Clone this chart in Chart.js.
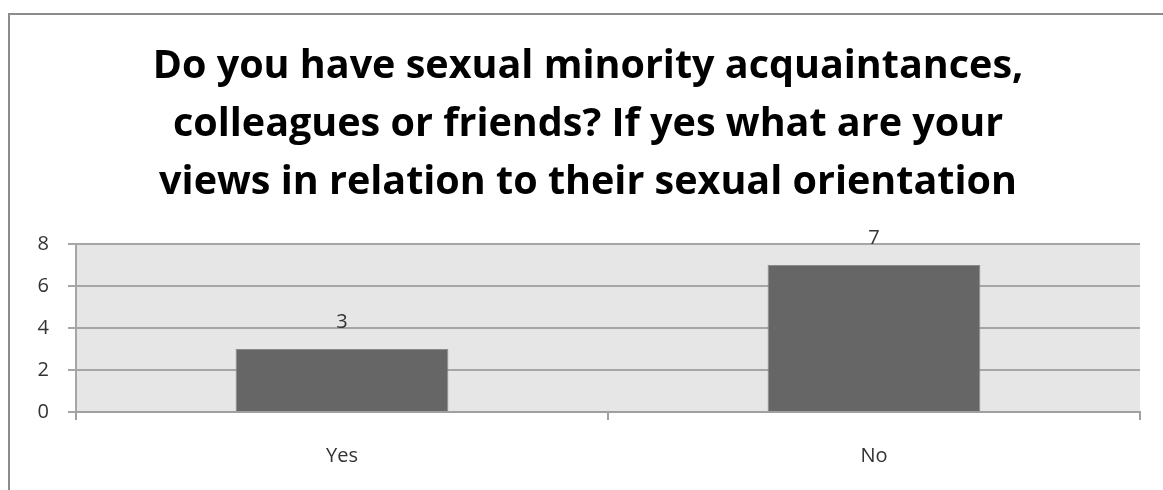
<!DOCTYPE html>
<html>
<head>
<meta charset="utf-8">
<script src="https://cdn.jsdelivr.net/npm/chart.js@4/dist/chart.umd.min.js"></script>
<style>
  html, body { margin: 0; padding: 0; background: #fff; overflow: hidden; }
  #frame { position: absolute; left: 8px; top: 13px; width: 1300px; height: 600px; border: 2px solid #8c8c8c; }
  #wrap { position: absolute; left: 0; top: 0; width: 1163px; height: 490px; }
</style>
</head>
<body>
<div id="frame"></div>
<div id="wrap"><canvas id="myChart"></canvas></div>
<script>
const categories = ['Yes', 'No'];
const answers = [3, 7];
const yTicks = [0, 2, 4, 6, 8];
const titleLines = [
  'Do you have sexual minority acquaintances,',
  'colleagues or friends? If yes what are your',
  'views in relation to their sexual orientation'
];

// grey plot background behind the bars
const plotBg = {
  id: 'plotBg',
  beforeDraw(chart) {
    const a = chart.chartArea;
    const c = chart.ctx;
    c.save();
    c.fillStyle = '#e6e6e6';
    c.fillRect(a.left, a.top, a.right - a.left, a.bottom - a.top);
    c.restore();
  }
};

// value written above each bar
const barValues = {
  id: 'barValues',
  afterDatasetsDraw(chart) {
    const c = chart.ctx;
    const meta = chart.getDatasetMeta(0);
    c.save();
    c.font = '20px "Open Sans"';
    c.fillStyle = '#333';
    c.textAlign = 'center';
    c.textBaseline = 'middle';
    meta.data.forEach((bar, i) => {
      c.fillText(String(answers[i]), bar.x, bar.y - 27);
    });
    c.restore();
  }
};

const ctx = document.getElementById('myChart');
const myChart = new Chart(ctx, {
  type: 'bar',
  data: {
    labels: categories,
    datasets: [{
      data: answers,
      backgroundColor: '#666666',
      borderColor: '#8a8a8a',
      borderWidth: 1,
      barPercentage: 0.4,
      categoryPercentage: 1
    }]
  },
  plugins: [plotBg, barValues],
  options: {
    responsive: true,
    maintainAspectRatio: false,
    animation: false,
    layout: { padding: { left: 36, right: 23, top: 0, bottom: 0 } },
    plugins: {
      legend: { display: false },
      tooltip: { enabled: false },
      title: {
        display: true,
        text: titleLines,
        color: '#000',
        font: { family: 'Open Sans', size: 39.5, weight: 'bold', lineHeight: '58px' },
        padding: { top: 38, bottom: 32 }
      }
    },
    scales: {
      x: {
        offset: true,
        grid: { offset: true, drawOnChartArea: false, drawTicks: true, tickLength: 8, color: '#a0a0a0', lineWidth: 2 },
        border: { color: '#a0a0a0', width: 2 },
        ticks: { color: '#333', font: { family: 'Open Sans', size: 20 }, padding: 24 },
        afterFit(scale) { scale.height = 78; }
      },
      y: {
        min: 0,
        max: 8,
        afterBuildTicks(scale) { scale.ticks = yTicks.map(v => ({ value: v })); },
        grid: { color: '#a6a6a6', lineWidth: 2, tickLength: 8 },
        border: { color: '#a6a6a6', width: 2 },
        ticks: { color: '#333', font: { family: 'Open Sans', size: 20 }, padding: 19 },
        afterFit(scale) { scale.width = 40; }
      }
    }
  }
});
</script>
</body>
</html>
